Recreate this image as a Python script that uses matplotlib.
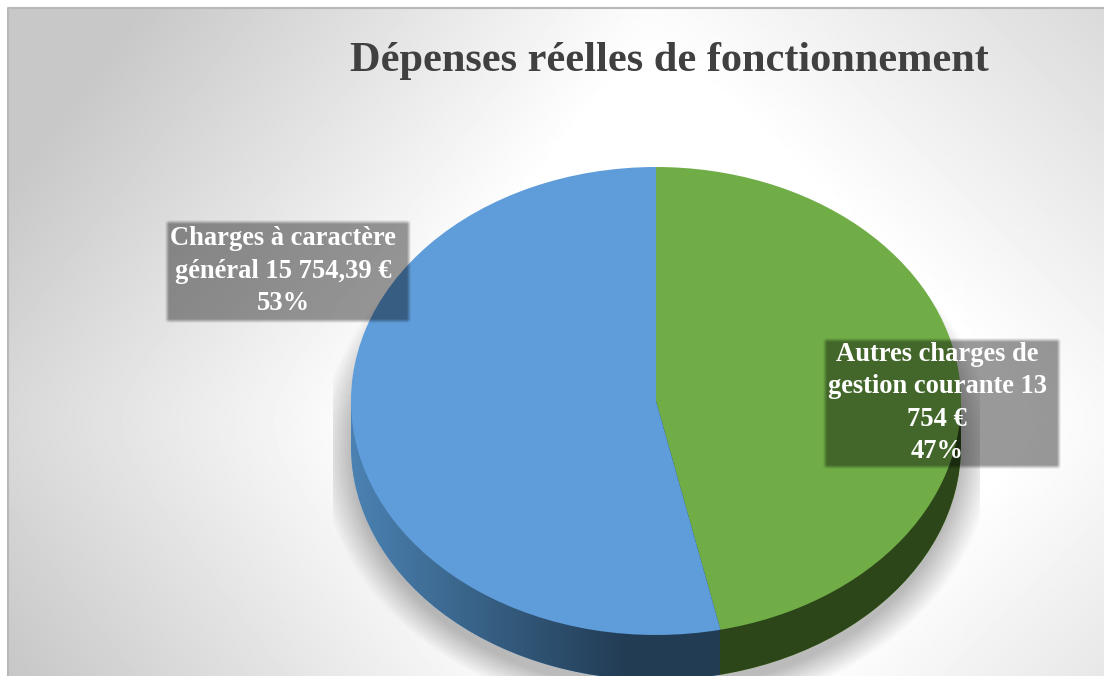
import numpy as np
import matplotlib
matplotlib.use("Agg")
import matplotlib.pyplot as plt
from matplotlib.colors import to_rgb
from matplotlib.patches import Ellipse, Rectangle

# --- data ---
title = "Dépenses réelles de fonctionnement"
categories = ["Autres charges de gestion courante", "Charges à caractère général"]
values = [13754, 15754.39]
label_texts = ["Autres charges de\ngestion courante 13\n754 €\n47%",
               "Charges à caractère\ngénéral 15 754,39 €\n53%"]
colors = ["#70AD47", "#5E9CDA"]

W, H = 1104, 676
DPI = 100
plt.rcParams["font.family"] = ["Liberation Serif", "DejaVu Serif"]
fig = plt.figure(figsize=(W / DPI, H / DPI), dpi=DPI, facecolor="white")


def px_axes(l, t, r, b, z):
    return fig.add_axes([l / W, 1 - b / H, (r - l) / W, (b - t) / H], zorder=z)


# background
bg = px_axes(0, 0, W, H, 0)
bg.axis("off")
yy, xx = np.mgrid[0:H, 0:W] + 0.5
dx = xx - 650
dx = np.sqrt((np.where(dx < 0, dx, dx * 0.75)) ** 2 + 30 ** 2)
dy = np.sqrt(((yy - 420) * 0.76) ** 2 + 30 ** 2)
v = (255 - np.clip(0.105 * (dx + dy - 310), 0, 55)) / 255
bg.imshow(v, cmap="gray", vmin=0, vmax=1, extent=(8, W, H, 8), aspect="auto", zorder=0)
bg.plot([8, 8, W], [H, 8, 8], color="#B8B8B8", lw=1.5, zorder=1)

# soft shadow, limited to its own rectangle
cx, cy, rx, ry, depth = 656, 401, 305, 234, 45
d = np.hypot((xx - cx) / (rx + 32), (yy - (cy + depth + 4)) / (ry + 32))
shadow = np.zeros((H, W, 4))
shadow[..., 3] = 0.27 * np.clip((1 - d) / 0.10, 0, 1)
shadow[(xx < 333) | (xx > 980) | (yy < 300), 3] = 0
bg.imshow(shadow, extent=(0, W, H, 0), aspect="auto", zorder=2)
bg.set_xlim(0, W); bg.set_ylim(H, 0)

# pie side (same pie, shifted down and swept up to the top face)
side = px_axes(cx - rx, cy - ry + depth, cx + rx, cy + ry + depth, 1)
side.pie(values, colors=colors, startangle=90, counterclock=False, radius=1)
side.set_aspect("auto")
share = values[0] / sum(values)
split = np.sin(2 * np.pi * share)
ramp_x = np.linspace(-1, 1, 800)
blue_l, blue_r = np.array(to_rgb("#4B82B2")), np.array(to_rgb("#223C54"))
t = np.clip((ramp_x + 1) / 0.9, 0, 1)[:, None]
ramp = blue_l * (1 - t) + blue_r * t
ramp[ramp_x >= split] = to_rgb("#2C4619")
du = 2 * depth / (2 * ry)
ell = Ellipse((0, 0), 2, 2, transform=side.transData)
rec = Rectangle((-1, 0), 2, du, transform=side.transData)
for clip in (ell, rec):
    im = side.imshow(ramp[None, :, :], extent=(-1, 1, -1, 1 + du), aspect="auto",
                     interpolation="nearest", zorder=3)
    im.set_clip_path(clip)
side.set_xlim(-1, 1); side.set_ylim(-1, 1)
side.patch.set_visible(False)

# pie top
top = px_axes(cx - rx, cy - ry, cx + rx, cy + ry, 2)
top.pie(values, colors=colors, startangle=90, counterclock=False, radius=1)
top.set_aspect("auto")
top.set_xlim(-1, 1); top.set_ylim(-1, 1)

# overlay
ov = px_axes(0, 0, W, H, 5)
ov.axis("off"); ov.patch.set_visible(False)


def soft_box(l, t, r_, b, alpha=0.4, soft=4):
    m = np.clip((xx - l) / soft, 0, 1) * np.clip((r_ - xx) / soft, 0, 1) * \
        np.clip((yy - t) / soft, 0, 1) * np.clip((b - yy) / soft, 0, 1)
    img = np.zeros((H, W, 4))
    img[..., 3] = alpha * m
    ov.imshow(img, extent=(0, W, H, 0), aspect="auto", zorder=1)


soft_box(823, 338, 1061, 469)
soft_box(165, 220, 411, 323)
ov.set_xlim(0, W); ov.set_ylim(H, 0)

ov.text(937, 403, label_texts[0], color="white", fontsize=19.1, fontweight="bold",
        ha="center", va="center", linespacing=1.38, zorder=3)
ov.text(283, 271, label_texts[1], color="white", fontsize=19.1, fontweight="bold",
        ha="center", va="center", linespacing=1.38, zorder=3)
ov.text(669, 61, title, color="#404040", fontsize=30.5, fontweight="bold",
        ha="center", va="center", zorder=3)

fig.savefig("out.png", dpi=DPI, facecolor="white")
